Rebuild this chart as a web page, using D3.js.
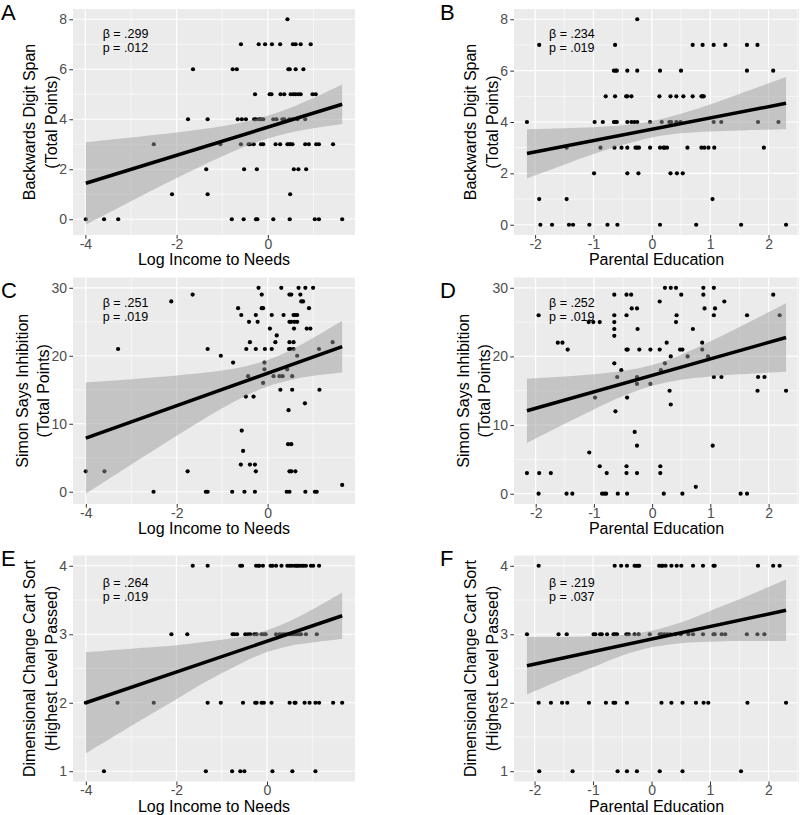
<!DOCTYPE html>
<html><head><meta charset="utf-8">
<script src="https://cdn.jsdelivr.net/npm/d3@7"></script>
<style>body{margin:0;background:#fff}svg{display:block;font-family:"Liberation Sans",Arial,sans-serif}</style>
</head><body><svg id="c" width="800" height="815"></svg>
<script>
// ---------------- DATA ----------------
const letters = ["A","B","C","D","E","F"];
const xTitles = ["Log Income to Needs","Parental Education"];
const yTitles = [["Backwards Digit Span","(Total Points)"],["Simon Says Inhibition","(Total Points)"],["Dimensional Change Cart Sort","(Highest Level Passed)"]];
const betas = [".299",".234",".251",".252",".264",".219"];
const pvals = [".012",".019",".019",".019",".019",".037"];
const incomeTicks = [-4,-2,0];
const eduTicks = [-2,-1,0,1,2];
const digitTicks = [0,2,4,6,8];
const simonTicks = [0,10,20,30];
const dccsTicks = [1,2,3,4];

// points grouped by y value: [y, [x...]]
const ptsA = [
 [8,[0.43]],
 [7,[-0.59,-0.20,-0.06,0.09,0.27,0.55,0.61,0.72,0.94]],
 [6,[-1.64,-0.77,-0.68,0.45,0.48,0.61,0.78]],
 [5,[-0.28,0.04,0.08,0.28,0.36,0.50,0.56,0.61,0.67,0.72,0.98,1.05]],
 [4,[-1.75,-1.32,-0.66,-0.57,-0.48,-0.30,-0.26,-0.19,-0.15,-0.10,0.12,0.19,0.32,0.36,0.47,0.54,0.65,0.82]],
 [3,[-2.50,-1.04,-0.59,-0.42,-0.39,-0.31,-0.15,-0.10,0.17,0.27,0.43,0.47,0.50,0.54,0.82,0.90,1.06,1.12,1.43]],
 [2,[-1.35,-0.52,-0.24,0.57,0.67,0.84]],
 [1,[-2.10,-1.32,0.49]],
 [0,[-3.99,-3.59,-3.28,-0.79,-0.53,-0.26,-0.23,0.12,0.48,1.03,1.12,1.63]]
];
const ptsB = [
 [8,[-0.25]],
 [7,[-1.93,-0.63,0.70,0.87,1.06,1.26,1.63,1.81]],
 [6,[-0.65,-0.62,-0.60,-0.42,-0.25,0.14,0.50,1.63,2.08]],
 [5,[-0.79,-0.63,-0.44,-0.42,-0.35,0.13,0.32,0.42,0.54,0.70,0.85,0.87,0.89]],
 [4,[-2.14,-0.98,-0.84,-0.65,-0.62,-0.60,-0.42,-0.35,-0.30,-0.25,-0.03,0.17,0.30,0.33,0.42,0.49,1.06,1.19,1.82,2.17]],
 [3,[-1.46,-0.88,-0.64,-0.52,-0.42,-0.28,-0.25,-0.22,-0.03,0.14,0.20,0.22,0.26,0.61,0.85,0.90,0.97,1.07,1.92]],
 [2,[-0.99,-0.42,-0.23,0.32,0.43,0.53]],
 [1,[-1.93,-1.46,1.04]],
 [0,[-1.91,-1.71,-1.42,-1.35,-1.07,-0.76,-0.59,0.14,0.76,1.53,2.30]]
];
const ptsC = [
 [30,[-0.20,0.30,0.68,0.83,1.00]],
 [29,[-1.65,-0.13,0.48,0.52,0.72]],
 [28,[-2.12,0.74,0.78]],
 [27,[-0.65,-0.13,-0.10,0.91]],
 [26,[-0.58,-0.26,0.09,0.35,0.57,0.61,0.65]],
 [25,[-0.41,-0.22,0.48,0.52,0.59,0.65]],
 [24,[0.05,0.58,0.86,0.94]],
 [23,[0.20]],
 [22,[-0.39,0.17,0.48,0.57,1.43]],
 [21,[-3.29,-1.32,-0.47,-0.26,-0.06,0.09,0.47,0.50,0.57,1.13]],
 [20,[-1.03,0.65]],
 [19,[-0.76,-0.07]],
 [18,[-0.07,0.43]],
 [17,[-0.43,0.13,0.26,0.33,0.54]],
 [16,[-0.10]],
 [15,[0.28,0.54,1.14]],
 [14,[-0.48,-0.31]],
 [13,[0.82]],
 [12,[0.46]],
 [9,[-0.57]],
 [7,[0.45,0.52]],
 [6,[-0.54]],
 [4,[-0.59,-0.39,-0.28]],
 [3,[-4.00,-3.59,-1.76,-0.26,0.48,0.52,0.61]],
 [1,[1.64]],
 [0,[-2.51,-1.36,-1.32,-0.78,-0.51,-0.28,0.42,0.48,0.83,1.04,1.08]]
];
const ptsD = [
 [30,[0.22,0.32,0.41,0.88,1.06]],
 [29,[-0.65,-0.44,-0.36,0.50,0.88,2.08]],
 [28,[0.13,1.24]],
 [27,[-0.35,-0.26,0.90,1.08]],
 [26,[-1.95,-0.65,-0.44,0.42,1.06,1.63,2.19]],
 [25,[-1.09,-1.01,-0.90,-0.65,0.41]],
 [24,[-0.65,-0.25,0.70]],
 [23,[-0.65]],
 [22,[-1.62,-1.54,0.25,0.86]],
 [21,[-1.45,-0.44,-0.42,-0.22,-0.03,0.13,0.48,0.52,0.86]],
 [20,[0.32,0.61,0.96]],
 [19,[-0.65,0.22]],
 [18,[-0.53,0.15]],
 [17,[-0.60,-0.26,1.06,1.19,1.82,1.93]],
 [16,[-0.26,-0.03]],
 [15,[0.30,1.81,2.30]],
 [14,[-0.98,-0.43]],
 [13,[0.32]],
 [12,[-0.63]],
 [9,[-0.30]],
 [7,[-0.26,1.04]],
 [6,[-1.08]],
 [4,[-0.90,-0.44,0.14]],
 [3,[-2.15,-1.94,-1.74,-0.78,-0.44,-0.26,0.14]],
 [1,[0.75]],
 [0,[-1.95,-1.47,-1.37,-0.86,-0.82,-0.79,-0.59,-0.43,0.20,0.52,1.52,1.63]]
];
const ptsE = [
 [4,[-1.64,-1.31,-0.59,-0.55,-0.24,-0.19,-0.17,-0.09,0.08,0.12,0.20,0.32,0.45,0.50,0.55,0.61,0.65,0.68,0.72,0.77,0.81,0.86,0.97,1.02,1.15]],
 [3,[-2.11,-1.76,-0.76,-0.72,-0.66,-0.48,-0.42,-0.37,-0.28,-0.23,-0.12,-0.07,-0.03,0.20,0.28,0.34,0.39,0.44,0.49,0.54,0.57,0.61,0.66,0.72,0.75,0.86,1.10]],
 [2,[-4.00,-3.30,-2.50,-1.31,-1.02,-0.53,-0.26,-0.23,-0.12,-0.07,0.10,0.50,0.61,0.63,0.83,0.94,1.07,1.15,1.46,1.66]],
 [1,[-3.60,-1.35,-0.77,-0.59,-0.50,0.12,0.56,1.07]]
];
const ptsF = [
 [4,[-1.93,-0.63,-0.52,-0.42,-0.29,-0.26,-0.23,-0.21,0.13,0.17,0.19,0.24,0.34,0.43,0.51,0.71,0.88,1.06,1.08,1.82,2.08,2.19]],
 [3,[-2.13,-1.59,-1.45,-0.99,-0.96,-0.88,-0.85,-0.76,-0.65,-0.62,-0.59,-0.43,-0.39,-0.29,-0.22,-0.03,0.14,0.17,0.22,0.27,0.32,0.41,0.50,0.63,0.71,0.88,1.06,1.08,1.20,1.26,1.63,1.81,1.93]],
 [2,[-1.93,-1.72,-1.53,-1.44,-1.07,-0.78,-0.65,-0.62,-0.42,0.17,0.34,0.53,0.76,0.89,0.97,1.64,2.30]],
 [1,[-1.92,-1.35,-0.58,-0.42,-0.25,0.14,0.53,1.53]]
];

// fitted lines (endpoints)
const lineAX = [-3.99, 1.63], lineAY = [1.44, 4.60];
const lineBX = [-2.14, 2.30], lineBY = [2.77, 4.73];
const lineCX = [-4.00, 1.64], lineCY = [7.90, 21.35];
const lineDX = [-2.15, 2.30], lineDY = [12.08, 22.76];
const lineEX = [-4.00, 1.66], lineEY = [2.00, 3.27];
const lineFX = [-2.13, 2.30], lineFY = [2.54, 3.35];

// confidence bands (read at sample x positions)
const bandAX  = [-3.99,-3,-2,-1.5,-1,-0.5,0,0.5,1,1.63];
const bandAHi = [3.08,3.27,3.47,3.59,3.72,3.90,4.14,4.46,4.85,5.39];
const bandALo = [-0.22,0.72,1.65,2.09,2.52,2.91,3.23,3.47,3.64,3.81];
const bandBX  = [-2.14,-1.5,-1,-0.5,0,0.5,1,1.5,2.30];
const bandBHi = [3.72,3.76,3.80,3.87,4.03,4.32,4.68,5.09,5.75];
const bandBLo = [1.81,2.34,2.75,3.11,3.40,3.56,3.63,3.67,3.72];
const bandCX  = [-4,-3,-2,-1.5,-1,-0.5,0,0.5,1,1.64];
const bandCHi = [16.09,16.56,17.10,17.42,17.84,18.44,19.39,20.82,22.61,25.15];
const bandCLo = [-0.29,4.02,8.24,10.30,12.28,14.06,15.49,16.44,17.05,17.55];
const bandDX  = [-2.15,-1.5,-1,-0.5,0,0.5,1,1.5,2.30];
const bandDHi = [16.78,17.09,17.40,17.86,18.74,20.26,22.20,24.29,27.76];
const bandDLo = [7.38,10.19,12.28,14.22,15.74,16.62,17.08,17.39,17.76];
const bandEX  = [-4,-3,-2,-1.5,-1,-0.5,0,0.5,1,1.66];
const bandEHi = [2.74,2.79,2.84,2.88,2.92,2.97,3.06,3.19,3.36,3.61];
const bandELo = [1.26,1.66,2.05,2.25,2.43,2.60,2.74,2.83,2.88,2.93];
const bandFX  = [-2.13,-1.5,-1,-0.5,0,0.5,1,1.5,2.30];
const bandFHi = [2.96,2.96,2.97,2.99,3.05,3.17,3.34,3.51,3.80];
const bandFLo = [2.12,2.35,2.52,2.69,2.81,2.87,2.89,2.90,2.90];

// ---------------- LAYOUT ----------------
const colL = [73, 514], colR = [355, 799];
const rowT = [9, 277.5, 555.5], rowB = [235, 504, 781.5];
const letterY = [20, 298, 566];

const panels = [
 {pts:ptsA, lx:lineAX, ly:lineAY, bx:bandAX, bh:bandAHi, bl:bandALo, xt:incomeTicks, yt:digitTicks},
 {pts:ptsB, lx:lineBX, ly:lineBY, bx:bandBX, bh:bandBHi, bl:bandBLo, xt:eduTicks, yt:digitTicks},
 {pts:ptsC, lx:lineCX, ly:lineCY, bx:bandCX, bh:bandCHi, bl:bandCLo, xt:incomeTicks, yt:simonTicks},
 {pts:ptsD, lx:lineDX, ly:lineDY, bx:bandDX, bh:bandDHi, bl:bandDLo, xt:eduTicks, yt:simonTicks},
 {pts:ptsE, lx:lineEX, ly:lineEY, bx:bandEX, bh:bandEHi, bl:bandELo, xt:incomeTicks, yt:dccsTicks},
 {pts:ptsF, lx:lineFX, ly:lineFY, bx:bandFX, bh:bandFHi, bl:bandFLo, xt:eduTicks, yt:dccsTicks}
];

const svg = d3.select("#c");
const FONT = "Liberation Sans, Arial, sans-serif";

function expand(ext){ const r = ext[1]-ext[0]; return [ext[0]-0.05*r, ext[1]+0.05*r]; }
function minorBreaks(ticks, dom){
  const step = ticks[1]-ticks[0];
  const b = [ticks[0]-step, ...ticks, ticks[ticks.length-1]+step];
  const out = [];
  for(let i=0;i<b.length-1;i++){ const m=(b[i]+b[i+1])/2; if(m>dom[0] && m<dom[1]) out.push(m); }
  return out;
}

panels.forEach((p,i)=>{
  const col = i%2, row = Math.floor(i/2);
  const L = colL[col], R = colR[col], T = rowT[row], B = rowB[row];
  const flat = p.pts.flatMap(([y,xs])=>xs.map(x=>({x,y})));
  const xs = flat.map(d=>d.x), ys = flat.map(d=>d.y);
  const xDom = expand(d3.extent(xs));
  const yDom = expand([d3.min([...ys, ...p.bl]), d3.max([...ys, ...p.bh])]);
  const x = d3.scaleLinear().domain(xDom).range([L,R]);
  const y = d3.scaleLinear().domain(yDom).range([B,T]);
  const g = svg.append("g");

  // panel background
  g.append("rect").attr("x",L).attr("y",T).attr("width",R-L).attr("height",B-T).attr("fill","#EBEBEB");
  // minor grid
  minorBreaks(p.xt, xDom).forEach(v=>g.append("line").attr("x1",x(v)).attr("x2",x(v)).attr("y1",T).attr("y2",B).attr("stroke","#fff").attr("stroke-width",0.6));
  minorBreaks(p.yt, yDom).forEach(v=>g.append("line").attr("y1",y(v)).attr("y2",y(v)).attr("x1",L).attr("x2",R).attr("stroke","#fff").attr("stroke-width",0.6));
  // major grid
  p.xt.forEach(v=>g.append("line").attr("x1",x(v)).attr("x2",x(v)).attr("y1",T).attr("y2",B).attr("stroke","#fff").attr("stroke-width",1.2));
  p.yt.forEach(v=>g.append("line").attr("y1",y(v)).attr("y2",y(v)).attr("x1",L).attr("x2",R).attr("stroke","#fff").attr("stroke-width",1.2));

  // axes
  const xAx = d3.axisBottom(x).tickValues(p.xt).tickSize(3.7).tickPadding(0).tickFormat(d=>String(d));
  const yAx = d3.axisLeft(y).tickValues(p.yt).tickSize(3.7).tickPadding(2.2).tickFormat(d=>String(d));
  const gx = g.append("g").attr("transform",`translate(0,${B})`).call(xAx);
  const gy = g.append("g").attr("transform",`translate(${L},0)`).call(yAx);
  [gx,gy].forEach(a=>{
    a.attr("font-size",null).attr("font-family",null);
    a.select(".domain").remove();
    a.selectAll(".tick line").attr("stroke","#333").attr("stroke-width",1);
    a.selectAll(".tick text").attr("fill","#4D4D4D").style("font-size","14px").style("font-family",FONT);
  });

  // points
  g.append("g").selectAll("circle").data(flat).join("circle")
    .attr("cx",d=>x(d.x)).attr("cy",d=>y(d.y)).attr("r",2.1).attr("fill","#000");

  // confidence band
  const band = p.bx.map((v,k)=>({x:v, lo:p.bl[k], hi:p.bh[k]}));
  g.append("path").datum(band)
    .attr("d", d3.area().x(d=>x(d.x)).y0(d=>y(d.lo)).y1(d=>y(d.hi)).curve(d3.curveCatmullRom))
    .attr("fill","#999999").attr("fill-opacity",0.48);
  // fitted line
  g.append("path").datum(p.lx.map((v,k)=>[v,p.ly[k]]))
    .attr("d", d3.line().x(d=>x(d[0])).y(d=>y(d[1])))
    .attr("stroke","#000").attr("stroke-width",3.5).attr("fill","none");

  // annotations
  const ax = L + (col===0 ? 29.7 : 35);
  const ay = T + [28.5,29.5,31][row];
  g.append("text").attr("x",ax).attr("y",ay).style("font-size","12.5px").attr("fill","#000").text("β = "+betas[i]);
  g.append("text").attr("x",ax).attr("y",ay+14).style("font-size","12.5px").attr("fill","#000").text("p = "+pvals[i]);

  // x title
  g.append("text").attr("x",(L+R)/2).attr("y",B+30).attr("text-anchor","middle")
    .style("font-size","16px").attr("fill","#000").text(xTitles[col]);

  // y title
  let maxW = 0; gy.selectAll(".tick text").each(function(){ maxW = Math.max(maxW, this.getComputedTextLength()); });
  const labLeft = L - 3.7 - 2.2 - maxW;
  const b2 = labLeft - 2.5, b1 = b2 - 21.5, cy = (T+B)/2;
  [[b1, yTitles[row][0]],[b2, yTitles[row][1]]].forEach(([bx,t])=>{
    g.append("text").attr("transform",`translate(${bx},${cy}) rotate(-90)`).attr("text-anchor","middle")
      .style("font-size","16px").attr("fill","#000").text(t);
  });

  // panel letter
  svg.append("text").attr("x", col===0 ? 1 : 440).attr("y", letterY[row]).style("font-size","22px").attr("fill","#000").text(letters[i]);
});
</script>
</body></html>
